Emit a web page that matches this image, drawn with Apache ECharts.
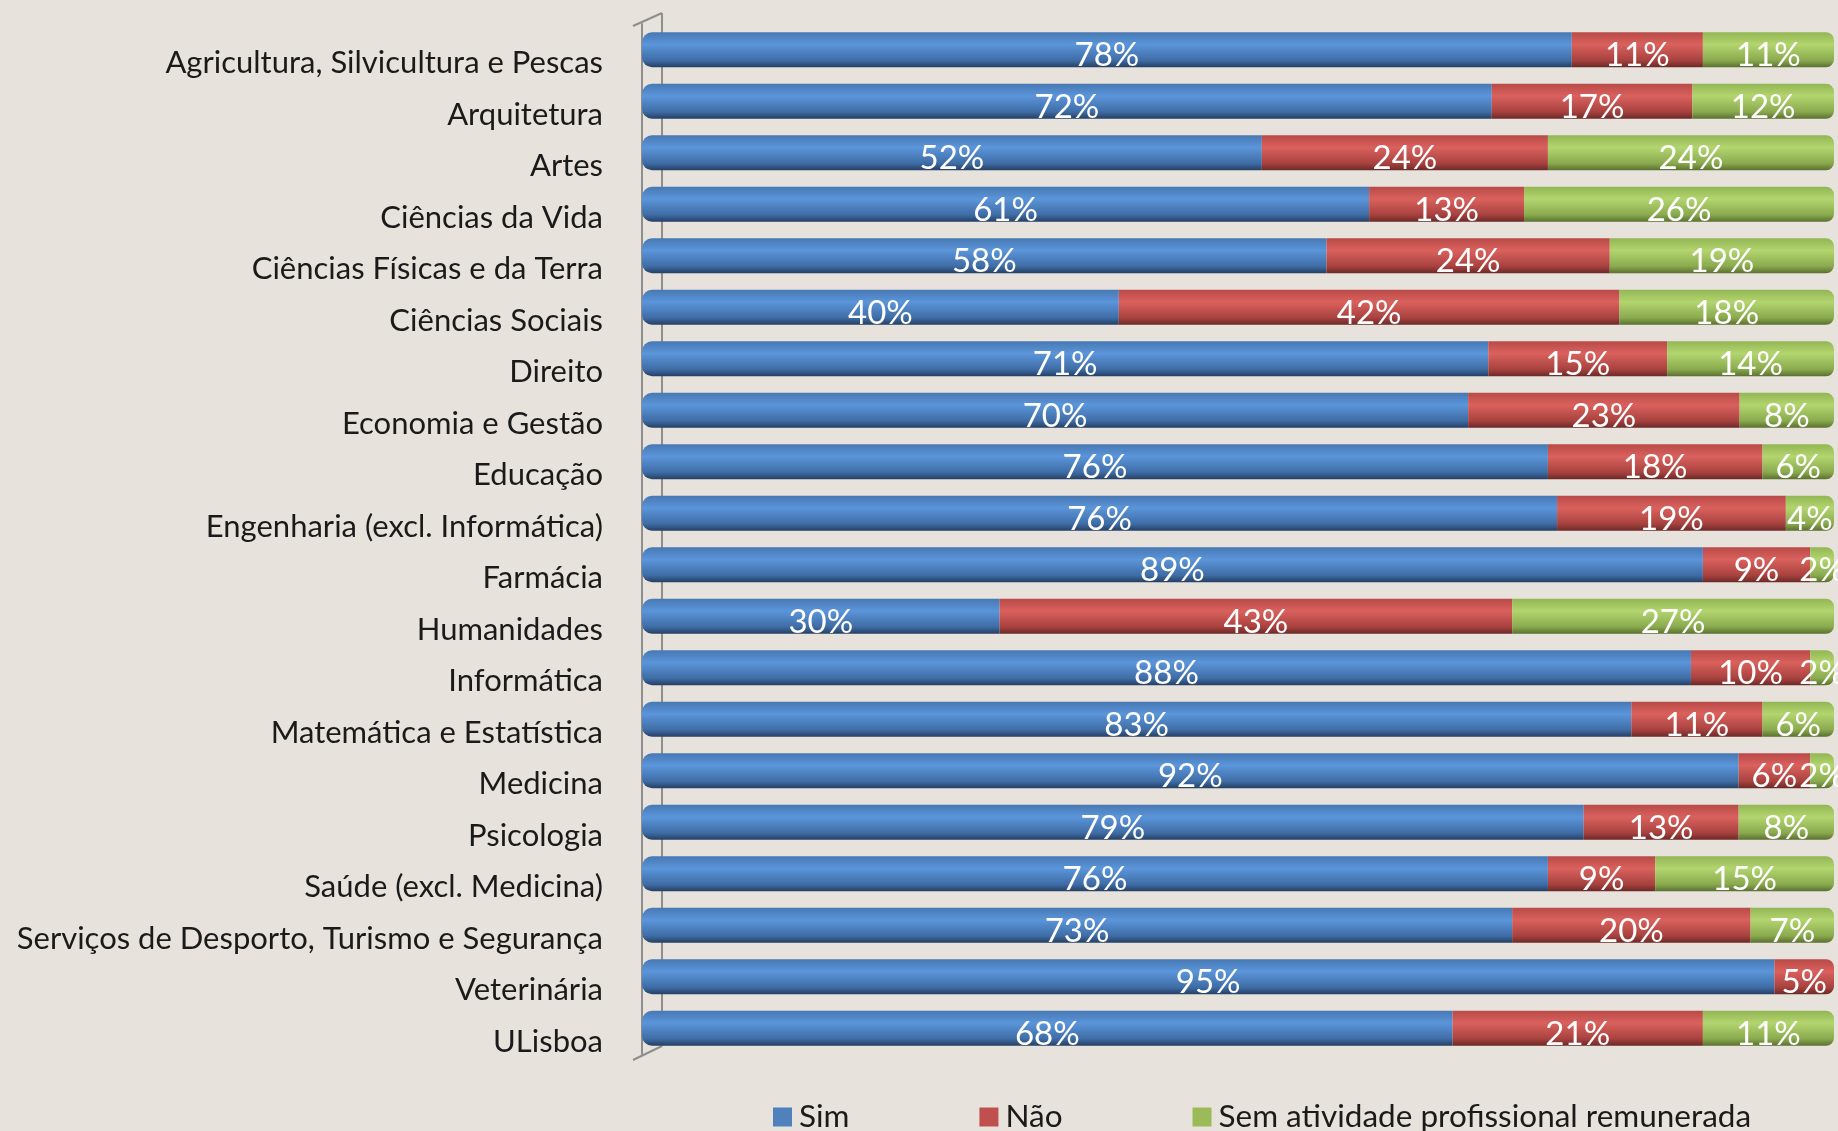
<!DOCTYPE html>
<html style="height: 100%">
<head>
<meta charset="utf-8">
<title>Atividade profissional remunerada por área</title>
<script src="https://cdn.jsdelivr.net/npm/echarts@6/dist/echarts.min.js"></script>
</head>
<body style="height: 100%; margin: 0; background: #E7E3DC">
<div id="container" style="width: 1838px; height: 1131px"></div>
<script type="text/javascript">
// dados (percentagens)
var areas = ['Agricultura, Silvicultura e Pescas', 'Arquitetura', 'Artes', 'Ciências da Vida',
    'Ciências Físicas e da Terra', 'Ciências Sociais', 'Direito', 'Economia e Gestão', 'Educação',
    'Engenharia (excl. Informática)', 'Farmácia', 'Humanidades', 'Informática',
    'Matemática e Estatística', 'Medicina', 'Psicologia', 'Saúde (excl. Medicina)',
    'Serviços de Desporto, Turismo e Segurança', 'Veterinária', 'ULisboa'];
var sim = [78, 72, 52, 61, 58, 40, 71, 70, 76, 76, 89, 30, 88, 83, 92, 79, 76, 73, 95, 68];
var nao = [11, 17, 24, 13, 24, 42, 15, 23, 18, 19, 9, 43, 10, 11, 6, 13, 9, 20, 5, 21];
var semAtividade = [11, 12, 24, 26, 19, 18, 14, 8, 6, 4, 2, 27, 2, 6, 2, 8, 15, 7, 0, 11];

var myChart = echarts.init(document.getElementById('container'));

function grad(c) {
    return new echarts.graphic.LinearGradient(0, 0, 0, 1, [
        { offset: 0, color: c[0] },
        { offset: 0.35, color: c[1] },
        { offset: 0.8, color: c[2] },
        { offset: 1, color: c[3] }
    ]);
}
var cores = [
    ['#4778B3', '#5B95DA', '#3F6DA6', '#253F63'],
    ['#B84A47', '#DA615D', '#A8423F', '#6B2927'],
    ['#92B654', '#B3D56F', '#8AAA4E', '#5A7030']
];
var flat = ['#4F81BD', '#C0504D', '#9BBB59'];
var nomes = ['Sim', 'Não', 'Sem atividade profissional remunerada'];
var todos = [sim, nao, semAtividade];

// 100% empilhado: normaliza cada linha pela soma
function serie(k) {
    return {
        name: nomes[k],
        type: 'bar',
        stack: 'total',
        barWidth: 35,
        z: 3,
        data: todos[k].map(function (v, i) {
            var soma = sim[i] + nao[i] + semAtividade[i];
            var ultimo = k === 2 || (k === 1 && semAtividade[i] === 0);
            var r = k === 0 ? [10, 0, 0, 10] : (ultimo ? [0, 8, 8, 0] : 0);
            return {
                value: v / soma * 100,
                orig: v,
                itemStyle: { color: grad(cores[k]), borderRadius: r }
            };
        }),
        label: {
            show: true,
            position: 'inside',
            offset: [0, 6],
            color: '#ffffff',
            fontFamily: 'Lato',
            fontSize: 33,
            formatter: function (p) { return p.data.orig ? p.data.orig + '%' : ''; }
        }
    };
}

var option = {
    backgroundColor: '#E7E3DC',
    animation: false,
    grid: { left: 642, right: 4, top: 24, height: 1030 },
    legend: {
        left: 773,
        top: 1101,
        padding: 0,
        itemWidth: 19,
        itemHeight: 19,
        itemGap: 130,
        icon: 'rect',
        textStyle: { fontFamily: 'Lato', fontSize: 31.5, color: '#1a1a1a', padding: [0, 0, 0, 2] },
        data: nomes.map(function (n, k) { return { name: n, itemStyle: { color: flat[k] } }; })
    },
    xAxis: {
        type: 'value',
        min: 0,
        max: 100,
        show: false
    },
    yAxis: {
        type: 'category',
        inverse: true,
        data: areas,
        offset: 9,
        axisLine: { lineStyle: { color: '#8E8E8E', width: 2 } },
        axisTick: { length: 9, lineStyle: { color: '#8E8E8E', width: 2 } },
        axisLabel: {
            margin: 30, fontFamily: 'Lato', fontSize: 31, color: '#1a1a1a',
            verticalAlign: 'top', lineHeight: 27
        }
    },
    graphic: [
        { type: 'line', z: 1, shape: { x1: 662, y1: 13, x2: 662, y2: 1046 }, style: { stroke: '#8E8E8E', lineWidth: 2 } },
        { type: 'line', z: 1, shape: { x1: 633, y1: 26, x2: 662, y2: 13 }, style: { stroke: '#8E8E8E', lineWidth: 2 } },
        { type: 'line', z: 1, shape: { x1: 633, y1: 1060, x2: 662, y2: 1046 }, style: { stroke: '#8E8E8E', lineWidth: 2 } }
    ],
    series: [serie(0), serie(1), serie(2)]
};
myChart.setOption(option);
</script>
</body>
</html>
